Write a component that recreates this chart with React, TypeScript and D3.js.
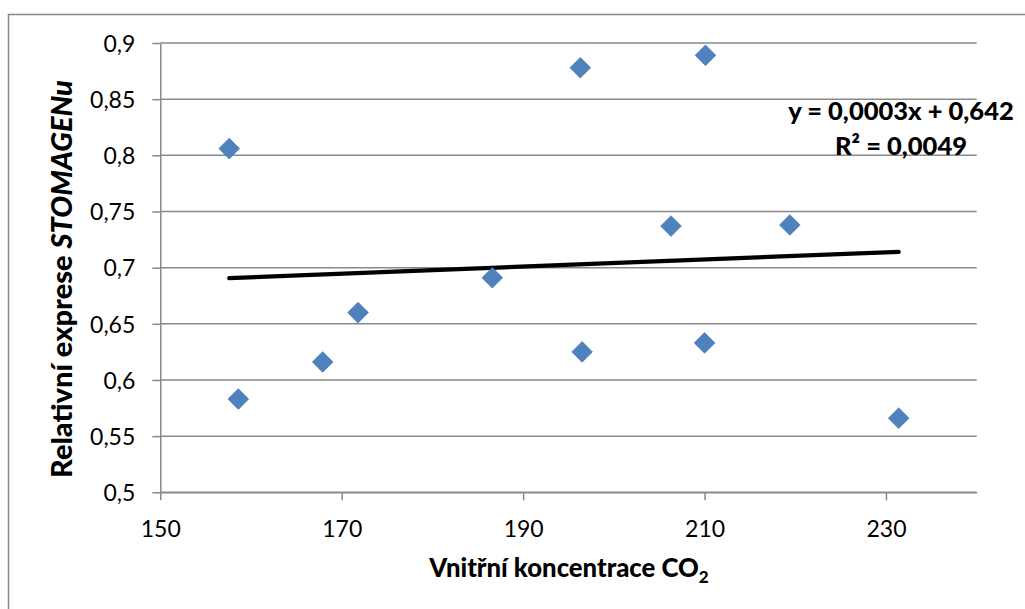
import React, { useEffect, useRef } from 'react';
import * as d3 from 'd3';

// Vnitřní koncentrace CO2 vs. relativní exprese STOMAGENu
const co2 = [157.6, 158.6, 167.9, 171.8, 186.6, 196.3, 196.5, 206.3, 210.1, 210.0, 219.4, 231.4];
const expression = [0.806, 0.583, 0.616, 0.66, 0.691, 0.878, 0.625, 0.737, 0.889, 0.633, 0.738, 0.566];
const xTicks = [150, 170, 190, 210, 230];
const yTicks = [0.5, 0.55, 0.6, 0.65, 0.7, 0.75, 0.8, 0.85, 0.9];
const equationLines = ['y = 0,0003x + 0,642', 'R² = 0,0049'];

const FONT = 'Lato, "Open Sans", sans-serif';
const GRID = '#898989';

const App = () => {
  const svgRef = useRef<SVGSVGElement>(null);

  useEffect(() => {
    const W = 1025;
    const H = 609;
    const margin = { top: 43, right: 48.3, bottom: 116.7, left: 160.3 };
    const width = W - margin.left - margin.right;
    const height = H - margin.top - margin.bottom;

    const x = d3.scaleLinear().domain([150, 240]).range([0, width]);
    const y = d3.scaleLinear().domain([0.5, 0.9]).range([height, 0]);
    const comma = (v: number) => String(v).replace('.', ',');

    const root = d3.select(svgRef.current);
    root.selectAll('*').remove();

    // outer chart border
    root
      .append('rect')
      .attr('x', 8.5)
      .attr('y', 14.5)
      .attr('width', 1040)
      .attr('height', 640)
      .attr('fill', '#fff')
      .attr('stroke', GRID)
      .attr('stroke-width', 1.5);

    const svg = root.append('g').attr('transform', `translate(${margin.left},${margin.top})`);

    // horizontal gridlines
    svg
      .append('g')
      .selectAll('line')
      .data(yTicks)
      .join('line')
      .attr('x1', 0)
      .attr('x2', width)
      .attr('y1', (d) => y(d))
      .attr('y2', (d) => y(d))
      .attr('stroke', GRID)
      .attr('stroke-width', 1.5);

    // Y axis
    const yAxis = svg
      .append('g')
      .call(d3.axisLeft(y).tickValues(yTicks).tickSize(8).tickSizeOuter(0).tickPadding(17).tickFormat((d) => comma(d as number)));
    yAxis.selectAll('path, line').attr('stroke', GRID).attr('stroke-width', 1.5);
    yAxis
      .selectAll('text')
      .attr('font-family', FONT)
      .attr('font-size', 23)
      .attr('fill', '#000')
      .attr('dy', '0.36em');

    // X axis
    const xAxis = svg
      .append('g')
      .attr('transform', `translate(0,${height})`)
      .call(d3.axisBottom(x).tickValues(xTicks).tickSize(8).tickSizeOuter(0));
    xAxis.selectAll('path, line').attr('stroke', GRID).attr('stroke-width', 1.5);
    xAxis
      .selectAll('text')
      .attr('font-family', FONT)
      .attr('font-size', 23)
      .attr('fill', '#000')
      .attr('dy', null)
      .attr('y', 44.7);

    // linear trend line (least squares from the points)
    const mx = d3.mean(co2) as number;
    const my = d3.mean(expression) as number;
    const sxy = d3.sum(co2, (v, i) => (v - mx) * (expression[i] - my));
    const sxx = d3.sum(co2, (v) => (v - mx) ** 2);
    const slope = sxy / sxx;
    const intercept = my - slope * mx;
    const [x0, x1] = d3.extent(co2) as [number, number];
    svg
      .append('path')
      .datum([x0, x1])
      .attr('d', d3.line<number>().x((d) => x(d)).y((d) => y(intercept + slope * d)))
      .attr('stroke', '#000')
      .attr('stroke-width', 4.2)
      .attr('stroke-linecap', 'round')
      .attr('fill', 'none');

    // markers
    svg
      .append('g')
      .selectAll('path')
      .data(co2)
      .join('path')
      .attr('d', d3.symbol(d3.symbolSquare, 213)())
      .attr('transform', (d, i) => `translate(${x(d)},${y(expression[i])}) rotate(45)`)
      .attr('fill', '#4F81BD')
      .attr('stroke', '#4A7EBB')
      .attr('stroke-width', 0.75);

    // trendline equation
    svg
      .append('text')
      .attr('font-family', FONT)
      .attr('font-weight', 900)
      .attr('font-size', 25.5)
      .attr('text-anchor', 'middle')
      .selectAll('tspan')
      .data(equationLines)
      .join('tspan')
      .attr('x', 901 - margin.left)
      .attr('y', (d, i) => 120 - margin.top + i * 35)
      .text((d) => d);

    // axis titles
    const xt = root
      .append('text')
      .attr('x', 569)
      .attr('y', 576.7)
      .attr('text-anchor', 'middle')
      .attr('font-family', FONT)
      .attr('font-weight', 900)
      .attr('font-size', 25.7);
    xt.append('tspan').text('Vnitřní koncentrace CO');
    xt.append('tspan').attr('font-size', 17).attr('dy', 6).text('2');

    const yt = root
      .append('text')
      .attr('transform', 'translate(72,279) rotate(-90)')
      .attr('text-anchor', 'middle')
      .attr('font-family', FONT)
      .attr('font-weight', 900)
      .attr('font-size', 29);
    yt.append('tspan').text('Relativní exprese ');
    yt.append('tspan').attr('font-style', 'italic').text('STOMAGENu');
  }, []);

  return (
    <svg
      ref={svgRef}
      width={1025}
      height={609}
      style={{ position: 'absolute', left: 0, top: 0, background: '#fff' }}
    ></svg>
  );
};

export default App;
